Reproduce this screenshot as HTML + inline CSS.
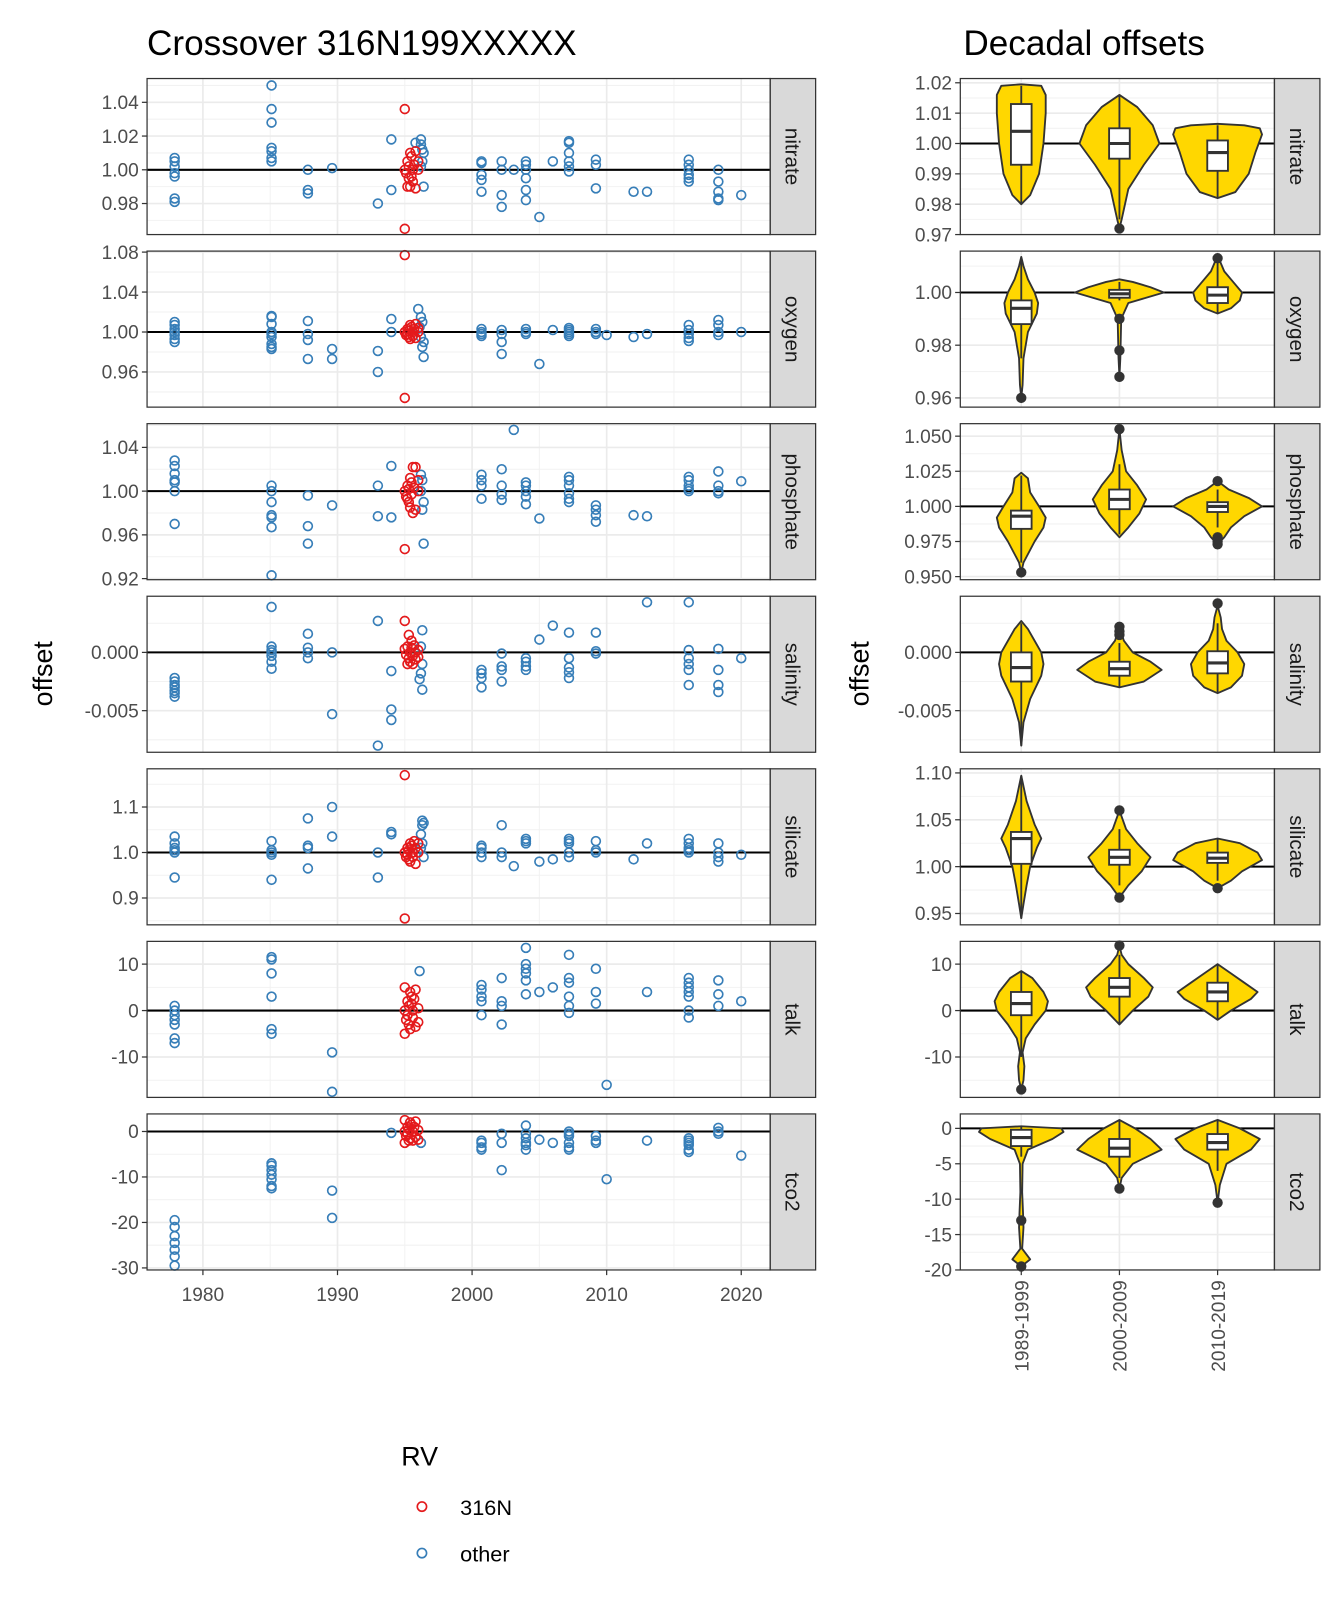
<!DOCTYPE html>
<html><head><meta charset="utf-8"><style>
html,body{margin:0;padding:0;background:#fff}
svg{display:block}
text{font-family:"Liberation Sans",sans-serif}
</style></head><body>
<svg id="chart" width="1344" height="1612" viewBox="0 0 1300 1560" xmlns="http://www.w3.org/2000/svg">
<rect width="1300" height="1560" fill="#fff"/>
<text x="142" y="53" font-size="34" fill="#000">Crossover 316N199XXXXX</text>
<text x="932" y="53" font-size="34" fill="#000">Decadal offsets</text>
<text transform="translate(50,652) rotate(-90)" text-anchor="middle" font-size="26">offset</text>
<text transform="translate(840,652) rotate(-90)" text-anchor="middle" font-size="26">offset</text>
<g>
<text x="388" y="1418" font-size="26">RV</text>
<circle cx="408" cy="1458" r="4.5" fill="none" stroke="#e41a1c" stroke-width="1.6"/>
<text x="445" y="1466" font-size="21">316N</text>
<circle cx="408" cy="1503" r="4.5" fill="none" stroke="#377eb8" stroke-width="1.6"/>
<text x="445" y="1511" font-size="21">other</text>
</g>
<g id="plots"></g>
</svg>
<script>
const panels = ["nitrate","oxygen","phosphate","salinity","silicate","talk","tco2"];
const refValues = [1,1,1,0,1,0,0];
const decades = ["1989-1999","2000-2009","2010-2019"];
const xTicks = [1980,1990,2000,2010,2020];
const xMinor = [1985,1995,2005,2015];
const leftDomains = [[0.9616,1.0541],[0.9248,1.081],[0.919,1.0617],[-0.00857,0.00482],[0.841,1.184],[-18.7,14.9],[-30.45,3.86]];
const rightDomains = [[0.97,1.0214],[0.9565,1.0157],[0.9478,1.0589],[-0.00857,0.00482],[0.9379,1.1044],[-18.7,14.9],[-20,2.04]];
const leftTicks = [[0.98,1.00,1.02,1.04],[0.96,1.00,1.04,1.08],[0.92,0.96,1.00,1.04],[-0.005,0],[0.9,1.0,1.1],[-10,0,10],[-30,-20,-10,0]];
const leftTickLabels = [["0.98","1.00","1.02","1.04"],["0.96","1.00","1.04","1.08"],["0.92","0.96","1.00","1.04"],["-0.005","0.000"],["0.9","1.0","1.1"],["-10","0","10"],["-30","-20","-10","0"]];
const rightTicks = [[0.97,0.98,0.99,1.00,1.01,1.02],[0.96,0.98,1.00],[0.95,0.975,1.0,1.025,1.05],[-0.005,0],[0.95,1.0,1.05,1.1],[-10,0,10],[-20,-15,-10,-5,0]];
const rightTickLabels = [["0.97","0.98","0.99","1.00","1.01","1.02"],["0.96","0.98","1.00"],["0.950","0.975","1.000","1.025","1.050"],["-0.005","0.000"],["0.95","1.00","1.05","1.10"],["-10","0","10"],["-20","-15","-10","-5","0"]];

const otherNitrate = [[1977.9,1.007],[1977.9,1.005],[1977.9,1.002],[1977.9,0.998],[1977.9,0.996],[1977.9,0.983],[1977.9,0.981],[1985.1,1.05],[1985.1,1.036],[1985.1,1.028],[1985.1,1.013],[1985.1,1.011],[1985.1,1.007],[1985.1,1.005],[1987.8,1.0],[1987.8,0.988],[1987.8,0.986],[1989.6,1.001],[1993,0.98],[1994,1.018],[1994,0.988],[1996.2,1.018],[1996.2,1.015],[1996.3,1.012],[1996.4,1.01],[1996.3,1.005],[1996.2,1.002],[1996.4,0.99],[1995.8,1.016],[2000.7,1.005],[2000.7,1.004],[2000.7,0.997],[2000.7,0.994],[2000.7,0.987],[2002.2,1.005],[2002.2,0.985],[2002.2,0.978],[2002.2,1.0],[2003.1,1.0],[2004,1.005],[2004,1.003],[2004,1.0],[2004,0.995],[2004,0.988],[2004,0.982],[2005,0.972],[2006,1.005],[2007.2,1.017],[2007.2,1.016],[2007.2,1.01],[2007.2,1.005],[2007.2,1.002],[2007.2,0.999],[2009.2,1.006],[2009.2,1.003],[2009.2,0.989],[2012,0.987],[2013,0.987],[2016.1,1.006],[2016.1,1.003],[2016.1,1.0],[2016.1,0.997],[2016.1,0.995],[2016.1,0.993],[2018.3,1.0],[2018.3,0.993],[2018.3,0.987],[2018.3,0.983],[2018.3,0.982],[2020,0.985]];
const otherOxygen = [[1977.9,1.01],[1977.9,1.007],[1977.9,1.003],[1977.9,1.0],[1977.9,0.997],[1977.9,0.993],[1977.9,0.99],[1985.1,1.016],[1985.1,1.015],[1985.1,1.008],[1985.1,1.0],[1985.1,0.998],[1985.1,0.995],[1985.1,0.988],[1985.1,0.985],[1985.1,0.983],[1987.8,1.011],[1987.8,0.998],[1987.8,0.992],[1987.8,0.973],[1989.6,0.983],[1989.6,0.973],[1993,0.981],[1993,0.96],[1994,1.013],[1994,1.0],[1996,1.023],[1996.2,1.015],[1996.3,1.01],[1996.1,1.005],[1996.2,0.995],[1996.4,0.99],[1996.3,0.985],[1996.4,0.975],[2000.7,1.003],[2000.7,1.0],[2000.7,0.998],[2000.7,0.996],[2002.2,1.002],[2002.2,0.998],[2002.2,0.99],[2002.2,0.978],[2004,1.003],[2004,1.0],[2004,0.998],[2005,0.968],[2006,1.002],[2007.2,1.004],[2007.2,1.002],[2007.2,1.0],[2007.2,0.998],[2007.2,0.996],[2009.2,1.003],[2009.2,1.0],[2009.2,0.998],[2010,0.997],[2012,0.995],[2013,0.998],[2016.1,1.007],[2016.1,1.002],[2016.1,0.998],[2016.1,0.994],[2016.1,0.991],[2018.3,1.012],[2018.3,1.007],[2018.3,1.0],[2018.3,0.997],[2020,1.0]];
const otherPhosphate = [[1977.9,1.028],[1977.9,1.023],[1977.9,1.016],[1977.9,1.01],[1977.9,1.008],[1977.9,1.0],[1977.9,0.97],[1985.1,1.005],[1985.1,1.0],[1985.1,0.99],[1985.1,0.978],[1985.1,0.976],[1985.1,0.967],[1985.1,0.923],[1987.8,0.996],[1987.8,0.968],[1987.8,0.952],[1989.6,0.987],[1993,1.005],[1993,0.977],[1994,1.023],[1994,0.976],[1996.2,1.015],[1996.3,1.01],[1996.2,1.0],[1996.4,0.99],[1996.3,0.983],[1996.4,0.952],[2000.7,1.015],[2000.7,1.01],[2000.7,1.005],[2000.7,0.993],[2002.2,1.02],[2002.2,1.005],[2002.2,0.997],[2002.2,0.992],[2003.1,1.056],[2004,1.008],[2004,1.005],[2004,1.0],[2004,0.995],[2004,0.988],[2005,0.975],[2007.2,1.013],[2007.2,1.01],[2007.2,1.005],[2007.2,0.998],[2007.2,0.993],[2007.2,0.99],[2009.2,0.987],[2009.2,0.983],[2009.2,0.978],[2009.2,0.972],[2012,0.978],[2013,0.977],[2016.1,1.013],[2016.1,1.01],[2016.1,1.005],[2016.1,1.002],[2016.1,1.0],[2018.3,1.018],[2018.3,1.005],[2018.3,1.0],[2018.3,0.998],[2020,1.009]];
const otherSalinity = [[1977.9,-0.0022],[1977.9,-0.0025],[1977.9,-0.0028],[1977.9,-0.003],[1977.9,-0.0033],[1977.9,-0.0035],[1977.9,-0.0038],[1985.1,0.0039],[1985.1,0.0005],[1985.1,0.0002],[1985.1,0.0],[1985.1,-0.0003],[1985.1,-0.0008],[1985.1,-0.0014],[1987.8,0.0016],[1987.8,0.0004],[1987.8,0.0],[1987.8,-0.0005],[1989.6,0.0],[1989.6,-0.0053],[1993,0.0027],[1993,-0.008],[1994,-0.0049],[1994,-0.0058],[1994,-0.0016],[1996.3,0.0019],[1996.2,0.0005],[1996.3,-0.001],[1996.2,-0.0018],[1996.1,-0.0023],[1996.3,-0.0032],[2000.7,-0.0015],[2000.7,-0.0018],[2000.7,-0.0022],[2000.7,-0.003],[2002.2,-0.0001],[2002.2,-0.0012],[2002.2,-0.0015],[2002.2,-0.0025],[2004,-0.0005],[2004,-0.0008],[2004,-0.0012],[2004,-0.0015],[2005,0.0011],[2006,0.0023],[2007.2,0.0017],[2007.2,-0.0005],[2007.2,-0.0013],[2007.2,-0.0017],[2007.2,-0.0022],[2009.2,0.0017],[2009.2,0.0001],[2009.2,-0.0001],[2013,0.0043],[2016.1,0.0043],[2016.1,0.0002],[2016.1,-0.0005],[2016.1,-0.001],[2016.1,-0.0015],[2016.1,-0.0028],[2018.3,0.0003],[2018.3,-0.0015],[2018.3,-0.0028],[2018.3,-0.0034],[2020,-0.0005]];
const otherSilicate = [[1977.9,1.035],[1977.9,1.02],[1977.9,1.01],[1977.9,1.005],[1977.9,1.0],[1977.9,0.945],[1985.1,1.025],[1985.1,1.005],[1985.1,1.0],[1985.1,0.995],[1985.1,0.94],[1987.8,1.075],[1987.8,1.015],[1987.8,1.01],[1987.8,0.965],[1989.6,1.1],[1989.6,1.035],[1993,1.0],[1993,0.945],[1994,1.045],[1994,1.04],[1996.3,1.07],[1996.4,1.065],[1996.3,1.06],[1996.2,1.04],[1996.3,1.02],[1996.2,1.01],[1996.4,0.99],[2000.7,1.015],[2000.7,1.01],[2000.7,1.0],[2000.7,0.99],[2002.2,1.06],[2002.2,1.0],[2002.2,0.99],[2003.1,0.97],[2004,1.03],[2004,1.025],[2004,1.02],[2005,0.98],[2006,0.985],[2007.2,1.03],[2007.2,1.025],[2007.2,1.02],[2007.2,1.0],[2007.2,0.99],[2009.2,1.025],[2009.2,1.005],[2009.2,1.0],[2012,0.985],[2013,1.02],[2016.1,1.03],[2016.1,1.02],[2016.1,1.01],[2016.1,1.005],[2016.1,1.0],[2018.3,1.02],[2018.3,1.0],[2018.3,0.99],[2018.3,0.98],[2020,0.995]];
const otherTalk = [[1977.9,1],[1977.9,0],[1977.9,-1],[1977.9,-2],[1977.9,-3],[1977.9,-6],[1977.9,-7],[1985.1,11.5],[1985.1,11],[1985.1,8],[1985.1,3],[1985.1,-4],[1985.1,-5],[1989.6,-9],[1989.6,-17.5],[1996.1,8.5],[2000.7,5.5],[2000.7,4.5],[2000.7,3],[2000.7,2],[2000.7,-1],[2002.2,7],[2002.2,2],[2002.2,1],[2002.2,-3],[2004,13.5],[2004,10],[2004,9],[2004,8],[2004,6.5],[2004,3.5],[2005,4],[2006,5],[2007.2,12],[2007.2,7],[2007.2,6],[2007.2,3],[2007.2,1],[2007.2,-0.5],[2009.2,9],[2009.2,4],[2009.2,1.5],[2010,-16],[2013,4],[2016.1,7],[2016.1,6],[2016.1,5],[2016.1,4],[2016.1,3],[2016.1,0],[2016.1,-1.5],[2018.3,6.5],[2018.3,3.5],[2018.3,1],[2020,2]];
const otherTco2 = [[1977.9,-19.5],[1977.9,-21],[1977.9,-23],[1977.9,-24.5],[1977.9,-26],[1977.9,-27.5],[1977.9,-29.5],[1985.1,-7],[1985.1,-7.5],[1985.1,-8.5],[1985.1,-9.5],[1985.1,-10.5],[1985.1,-12],[1985.1,-12.5],[1989.6,-13],[1989.6,-19],[1994,-0.3],[1996.2,-2.5],[2000.7,-2],[2000.7,-2.5],[2000.7,-3.5],[2000.7,-4],[2002.2,-0.5],[2002.2,-2.5],[2002.2,-8.5],[2004,1.3],[2004,-0.5],[2004,-1.5],[2004,-2.5],[2004,-3],[2004,-4],[2005,-1.8],[2006,-2.5],[2007.2,0],[2007.2,-0.5],[2007.2,-1],[2007.2,-2.5],[2007.2,-3.5],[2007.2,-4],[2009.2,-1],[2009.2,-2],[2009.2,-2.5],[2010,-10.5],[2013,-2],[2016.1,-1.5],[2016.1,-2],[2016.1,-2.5],[2016.1,-3],[2016.1,-4],[2016.1,-4.5],[2018.3,0.8],[2018.3,0],[2018.3,-0.5],[2020,-5.3]];
const redNitrate = [[1995,1.036],[1995,0.965],[1995,1.0],[1995.1,0.998],[1995.2,1.005],[1995.3,0.995],[1995.3,1.002],[1995.4,1.01],[1995.4,0.99],[1995.5,1.008],[1995.6,1.0],[1995.6,0.993],[1995.7,1.003],[1995.8,1.011],[1995.8,0.989],[1996,1.0],[1996,1.005],[1995.2,0.99],[1995.5,0.996]];
const redOxygen = [[1995,1.077],[1995,0.934],[1995,1.0],[1995.1,0.997],[1995.2,1.003],[1995.3,0.995],[1995.3,1.001],[1995.4,1.007],[1995.4,0.993],[1995.5,1.005],[1995.6,1.0],[1995.6,0.996],[1995.7,1.003],[1995.8,1.008],[1995.8,0.994],[1996,1.0],[1996,1.004],[1995.2,0.998]];
const redPhosphate = [[1995,0.947],[1995,1.0],[1995.1,0.995],[1995.2,1.005],[1995.3,0.99],[1995.3,1.002],[1995.4,1.012],[1995.4,0.985],[1995.5,1.008],[1995.6,1.022],[1995.6,0.98],[1995.7,1.003],[1995.8,1.022],[1995.8,0.983],[1996,1.0],[1996,1.01],[1995.2,0.993],[1995.5,0.997]];
const redSalinity = [[1995,0.0027],[1995.3,0.0015],[1995.5,0.001],[1995,0.0003],[1995.1,-0.0002],[1995.2,0.0005],[1995.3,-0.0005],[1995.4,0.0],[1995.4,-0.0008],[1995.5,0.0004],[1995.6,-0.0003],[1995.6,-0.001],[1995.7,0.0006],[1995.8,0.0],[1995.8,-0.0006],[1996,0.0002],[1996,-0.0004],[1995.2,-0.001]];
const redSilicate = [[1995,1.17],[1995,0.855],[1995,1.0],[1995.1,0.99],[1995.2,1.01],[1995.3,0.985],[1995.3,1.005],[1995.4,1.02],[1995.4,0.98],[1995.5,1.015],[1995.6,1.0],[1995.6,0.99],[1995.7,1.025],[1995.8,1.01],[1995.8,0.975],[1996,1.0],[1996,1.02],[1995.2,0.995]];
const redTalk = [[1995,5],[1995,-5],[1995,0],[1995.1,-2],[1995.2,2],[1995.3,-3],[1995.3,1],[1995.4,4],[1995.4,-4],[1995.5,3],[1995.6,0],[1995.6,-1.5],[1995.7,2.5],[1995.8,4.5],[1995.8,-3.5],[1996,0.5],[1996,-2.5],[1995.2,-1],[1995.5,1.5]];
const redTco2 = [[1995,2.5],[1995,-2.5],[1995,0],[1995.1,-1],[1995.2,1],[1995.3,-2],[1995.3,0.5],[1995.4,2],[1995.4,-1.5],[1995.5,1.5],[1995.6,0],[1995.6,-2],[1995.7,1],[1995.8,2.2],[1995.8,-1.2],[1996,0.3],[1996,-1.8],[1995.2,-0.5]];
const otherSeries = [otherNitrate,otherOxygen,otherPhosphate,otherSalinity,otherSilicate,otherTalk,otherTco2];
const redSeries = [redNitrate,redOxygen,redPhosphate,redSalinity,redSilicate,redTalk,redTco2];

const violinNitrate = [[[0.98,0],[0.983,0.2],[0.99,0.4],[1.0,0.5],[1.01,0.55],[1.016,0.55],[1.019,0.45],[1.0195,0]],[[0.972,0],[0.975,0.05],[0.985,0.2],[0.993,0.55],[1.0,0.9],[1.006,0.75],[1.012,0.4],[1.016,0]],[[0.982,0],[0.984,0.4],[0.99,0.7],[0.997,0.85],[1.003,1.0],[1.005,0.95],[1.006,0.6],[1.0065,0]]];
const violinOxygen = [[[0.96,0],[0.965,0.03],[0.975,0.05],[0.985,0.15],[0.992,0.35],[0.996,0.38],[1.0,0.3],[1.005,0.15],[1.01,0.05],[1.0135,0]],[[0.968,0],[0.975,0.02],[0.99,0.04],[0.996,0.2],[0.998,0.6],[1.0,1.0],[1.002,0.7],[1.004,0.3],[1.005,0]],[[0.992,0],[0.994,0.3],[0.997,0.5],[1.0,0.55],[1.004,0.35],[1.008,0.15],[1.012,0.05],[1.013,0]]];
const violinPhosphate = [[[0.953,0],[0.96,0.05],[0.975,0.3],[0.985,0.5],[0.992,0.55],[1.0,0.4],[1.01,0.2],[1.02,0.15],[1.024,0]],[[0.978,0],[0.985,0.2],[0.995,0.45],[1.005,0.6],[1.015,0.4],[1.025,0.15],[1.04,0.05],[1.055,0]],[[0.973,0],[0.978,0.15],[0.985,0.3],[0.993,0.6],[1.0,1.0],[1.006,0.7],[1.012,0.25],[1.018,0]]];
const violinSalinity = [[[-0.008,0],[-0.006,0.05],[-0.004,0.2],[-0.002,0.45],[-0.001,0.5],[0,0.45],[0.001,0.3],[0.002,0.15],[0.0027,0]],[[-0.003,0],[-0.0025,0.55],[-0.0015,0.95],[-0.0008,0.7],[0,0.3],[0.001,0.1],[0.0022,0]],[[-0.0035,0],[-0.003,0.3],[-0.002,0.55],[-0.001,0.6],[0,0.45],[0.001,0.2],[0.002,0.1],[0.003,0.07],[0.004,0]]];
const violinSilicate = [[[0.945,0],[0.96,0.05],[0.98,0.12],[1.0,0.2],[1.02,0.35],[1.03,0.45],[1.045,0.3],[1.07,0.12],[1.097,0]],[[0.967,0],[0.98,0.2],[0.995,0.5],[1.01,0.7],[1.025,0.4],[1.04,0.15],[1.06,0]],[[0.977,0],[0.985,0.3],[0.995,0.55],[1.007,1.0],[1.015,0.9],[1.025,0.5],[1.03,0]]];
const violinTalk = [[[-17,0],[-15,0.05],[-12,0.07],[-9,0.03],[-6,0.1],[-3,0.3],[0,0.55],[2,0.6],[4,0.5],[7,0.25],[8.5,0]],[[-3,0],[0,0.3],[3,0.65],[5,0.75],[7,0.55],[10,0.2],[12,0.05],[14,0]],[[-2,0],[0,0.3],[2.5,0.75],[4,0.9],[6,0.6],[8,0.3],[10,0]]];
const violinTco2 = [[[-19.5,0],[-18.5,0.2],[-17,0.02],[-14,0.05],[-12,0.04],[-9,0.02],[-5,0.03],[-3,0.15],[-1.5,0.7],[-0.5,0.95],[0,0.9],[0.3,0]],[[-8.5,0],[-7,0.05],[-5,0.3],[-3,0.95],[-1.5,0.7],[0,0.35],[1.2,0]],[[-10.5,0],[-8,0.05],[-5,0.2],[-3,0.75],[-1.5,0.95],[0,0.5],[1.2,0]]];
const violins = [violinNitrate,violinOxygen,violinPhosphate,violinSalinity,violinSilicate,violinTalk,violinTco2];
const boxNitrate = [[0.98,0.993,1.004,1.013,1.019,[]],[0.975,0.995,1.0,1.005,1.016,[0.972]],[0.982,0.991,0.997,1.001,1.006,[]]];
const boxOxygen = [[0.975,0.988,0.994,0.997,1.012,[0.96]],[0.997,0.998,0.9995,1.001,1.004,[0.99,0.978,0.968]],[0.992,0.996,0.999,1.002,1.012,[1.013]]];
const boxPhosphate = [[0.96,0.984,0.993,0.997,1.022,[0.953]],[0.98,0.998,1.005,1.012,1.03,[1.055]],[0.985,0.996,1.0,1.003,1.012,[0.978,0.975,0.973,1.018]]];
const boxSalinity = [[-0.008,-0.0025,-0.0013,0,0.0025,[]],[-0.003,-0.002,-0.0014,-0.0008,0.0008,[0.0015,0.0018,0.0022]],[-0.0035,-0.0018,-0.0009,0.0001,0.0025,[0.0042]]];
const boxSilicate = [[0.945,1.003,1.03,1.037,1.097,[]],[0.98,1.002,1.01,1.018,1.04,[0.967,1.06]],[0.985,1.004,1.009,1.015,1.03,[0.977]]];
const boxTalk = [[-10,-1,1.5,4,8.5,[-17]],[-3,3,5,7,12,[14]],[-2,2,4,6,10,[]]];
const boxTco2 = [[-4,-2.5,-1.3,-0.2,0.3,[-13,-19.5]],[-7,-4,-2.8,-1.5,1.2,[-8.5]],[-6,-3,-2,-0.8,1.2,[-10.5]]];
const boxes = [boxNitrate,boxOxygen,boxPhosphate,boxSalinity,boxSilicate,boxTalk,boxTco2];

const NS = "http://www.w3.org/2000/svg";
const root = document.getElementById("plots");
function mk(tag, attrs, parent){ const e=document.createElementNS(NS,tag); for(const k in attrs) e.setAttribute(k,attrs[k]); (parent||root).appendChild(e); return e; }
const TOP0=76, PH=151, STEP=167, LX0=142, LX1=745, RX0=929, RX1=1233, STRIP=44;
const xDom=[1975.85,2022.15];
function xs(v){ return LX0+(v-xDom[0])/(xDom[1]-xDom[0])*(LX1-LX0); }
const catX = i => 988 + i*95;

function frame(g, x0, x1, top, dom, ticks, labels, name, vgrid, vminor, ref){
  const ys = v => top+PH-(v-dom[0])/(dom[1]-dom[0])*PH;
  const step = ticks.length>1 ? ticks[1]-ticks[0] : 1;
  for(let v=ticks[0]-step/2; v<=dom[1]; v+=step){ if(v>=dom[0]){ const l=mk("line",{x1:x0,x2:x1,y1:ys(v),y2:ys(v),stroke:"#f2f2f2","stroke-width":1},g);   } }
  vminor.forEach(x=>{ const l=mk("line",{x1:x,x2:x,y1:top,y2:top+PH,stroke:"#f2f2f2","stroke-width":1},g);   });
  ticks.forEach((v,i)=>{ const y=ys(v);
    const l=mk("line",{x1:x0,x2:x1,y1:y,y2:y,stroke:"#ebebeb","stroke-width":1.6},g);
     
    const tk=mk("line",{x1:x0-5,x2:x0,y1:y,y2:y,stroke:"#333","stroke-width":1.2},g);
     
    const t=mk("text",{x:x0-8,y:y+6.5,"text-anchor":"end","font-size":18.5,fill:"#4d4d4d"},g); t.textContent=labels[i];
     
  });
  vgrid.forEach(x=>{ const l=mk("line",{x1:x,x2:x,y1:top,y2:top+PH,stroke:"#ebebeb","stroke-width":1.6},g);   });
  const z=mk("line",{x1:x0,x2:x1,y1:ys(ref),y2:ys(ref),stroke:"#000","stroke-width":2},g);  
  const s=mk("rect",{x:x1,y:top,width:STRIP,height:PH,fill:"#d9d9d9",stroke:"#333","stroke-width":1.2},g);
   
  const st=mk("text",{transform:`translate(${x1+STRIP/2-7},${top+PH/2}) rotate(90)`,"text-anchor":"middle","font-size":20,fill:"#1a1a1a"},g); st.textContent=name;
   
  return ys;
}

panels.forEach((p,pi)=>{
  const top=TOP0+pi*STEP;
  const gl=mk("g",{});  
  const ysL=frame(gl,LX0,LX1,top,leftDomains[pi],leftTicks[pi],leftTickLabels[pi],p,xTicks.map(xs),xMinor.map(xs),refValues[pi]);
  otherSeries[pi].forEach(d=>{ const c=mk("circle",{cx:xs(d[0]),cy:ysL(d[1]),r:4.3,fill:"none",stroke:"#377eb8","stroke-width":1.6},gl);   });
  redSeries[pi].forEach(d=>{ const c=mk("circle",{cx:xs(d[0]),cy:ysL(d[1]),r:4.3,fill:"none",stroke:"#e41a1c","stroke-width":1.6},gl);   });
  const bl=mk("rect",{x:LX0,y:top,width:LX1-LX0,height:PH,fill:"none",stroke:"#333","stroke-width":1.2},gl);  
  const gr=mk("g",{});  
  const ysR=frame(gr,RX0,RX1,top,rightDomains[pi],rightTicks[pi],rightTickLabels[pi],p,decades.map((d,i)=>catX(i)),[],refValues[pi]);
  violins[pi].forEach((prof,di)=>{
    const cx=catX(di), W=43;
    const right=prof.map(q=>`${cx+q[1]*W},${ysR(q[0])}`), left=prof.slice().reverse().map(q=>`${cx-q[1]*W},${ysR(q[0])}`);
    const v=mk("polygon",{points:right.concat(left).join(" "),fill:"#ffd700",stroke:"#333","stroke-width":1.8,"stroke-linejoin":"round"},gr);
     
    const b=boxes[pi][di];
    const wl=mk("line",{x1:cx,x2:cx,y1:ysR(b[0]),y2:ysR(b[4]),stroke:"#333","stroke-width":1.8},gr);  
    const r=mk("rect",{x:cx-10,y:ysR(b[3]),width:20,height:Math.max(1,ysR(b[1])-ysR(b[3])),fill:"#fff",stroke:"#333","stroke-width":1.8},gr);  
    const m=mk("line",{x1:cx-10,x2:cx+10,y1:ysR(b[2]),y2:ysR(b[2]),stroke:"#333","stroke-width":3},gr);  
    b[5].forEach(o=>{ const c=mk("circle",{cx:cx,cy:ysR(o),r:5,fill:"#333"},gr);   });
  });
  const br=mk("rect",{x:RX0,y:top,width:RX1-RX0,height:PH,fill:"none",stroke:"#333","stroke-width":1.2},gr);  
});
const axisY = TOP0+6*STEP+PH;
xTicks.forEach(v=>{
  const t=mk("line",{x1:xs(v),x2:xs(v),y1:axisY,y2:axisY+5,stroke:"#333","stroke-width":1.2});
   
  const l=mk("text",{x:xs(v),y:axisY+30,"text-anchor":"middle","font-size":18.5,fill:"#4d4d4d"}); l.textContent=v;
   
});
decades.forEach((d,i)=>{
  const t=mk("line",{x1:catX(i),x2:catX(i),y1:axisY,y2:axisY+5,stroke:"#333","stroke-width":1.2});
   
  const l=mk("text",{transform:`translate(${catX(i)+7},${axisY+10}) rotate(-90)`,"text-anchor":"end","font-size":18.5,fill:"#4d4d4d"}); l.textContent=d;
   
});
</script>
</body></html>
